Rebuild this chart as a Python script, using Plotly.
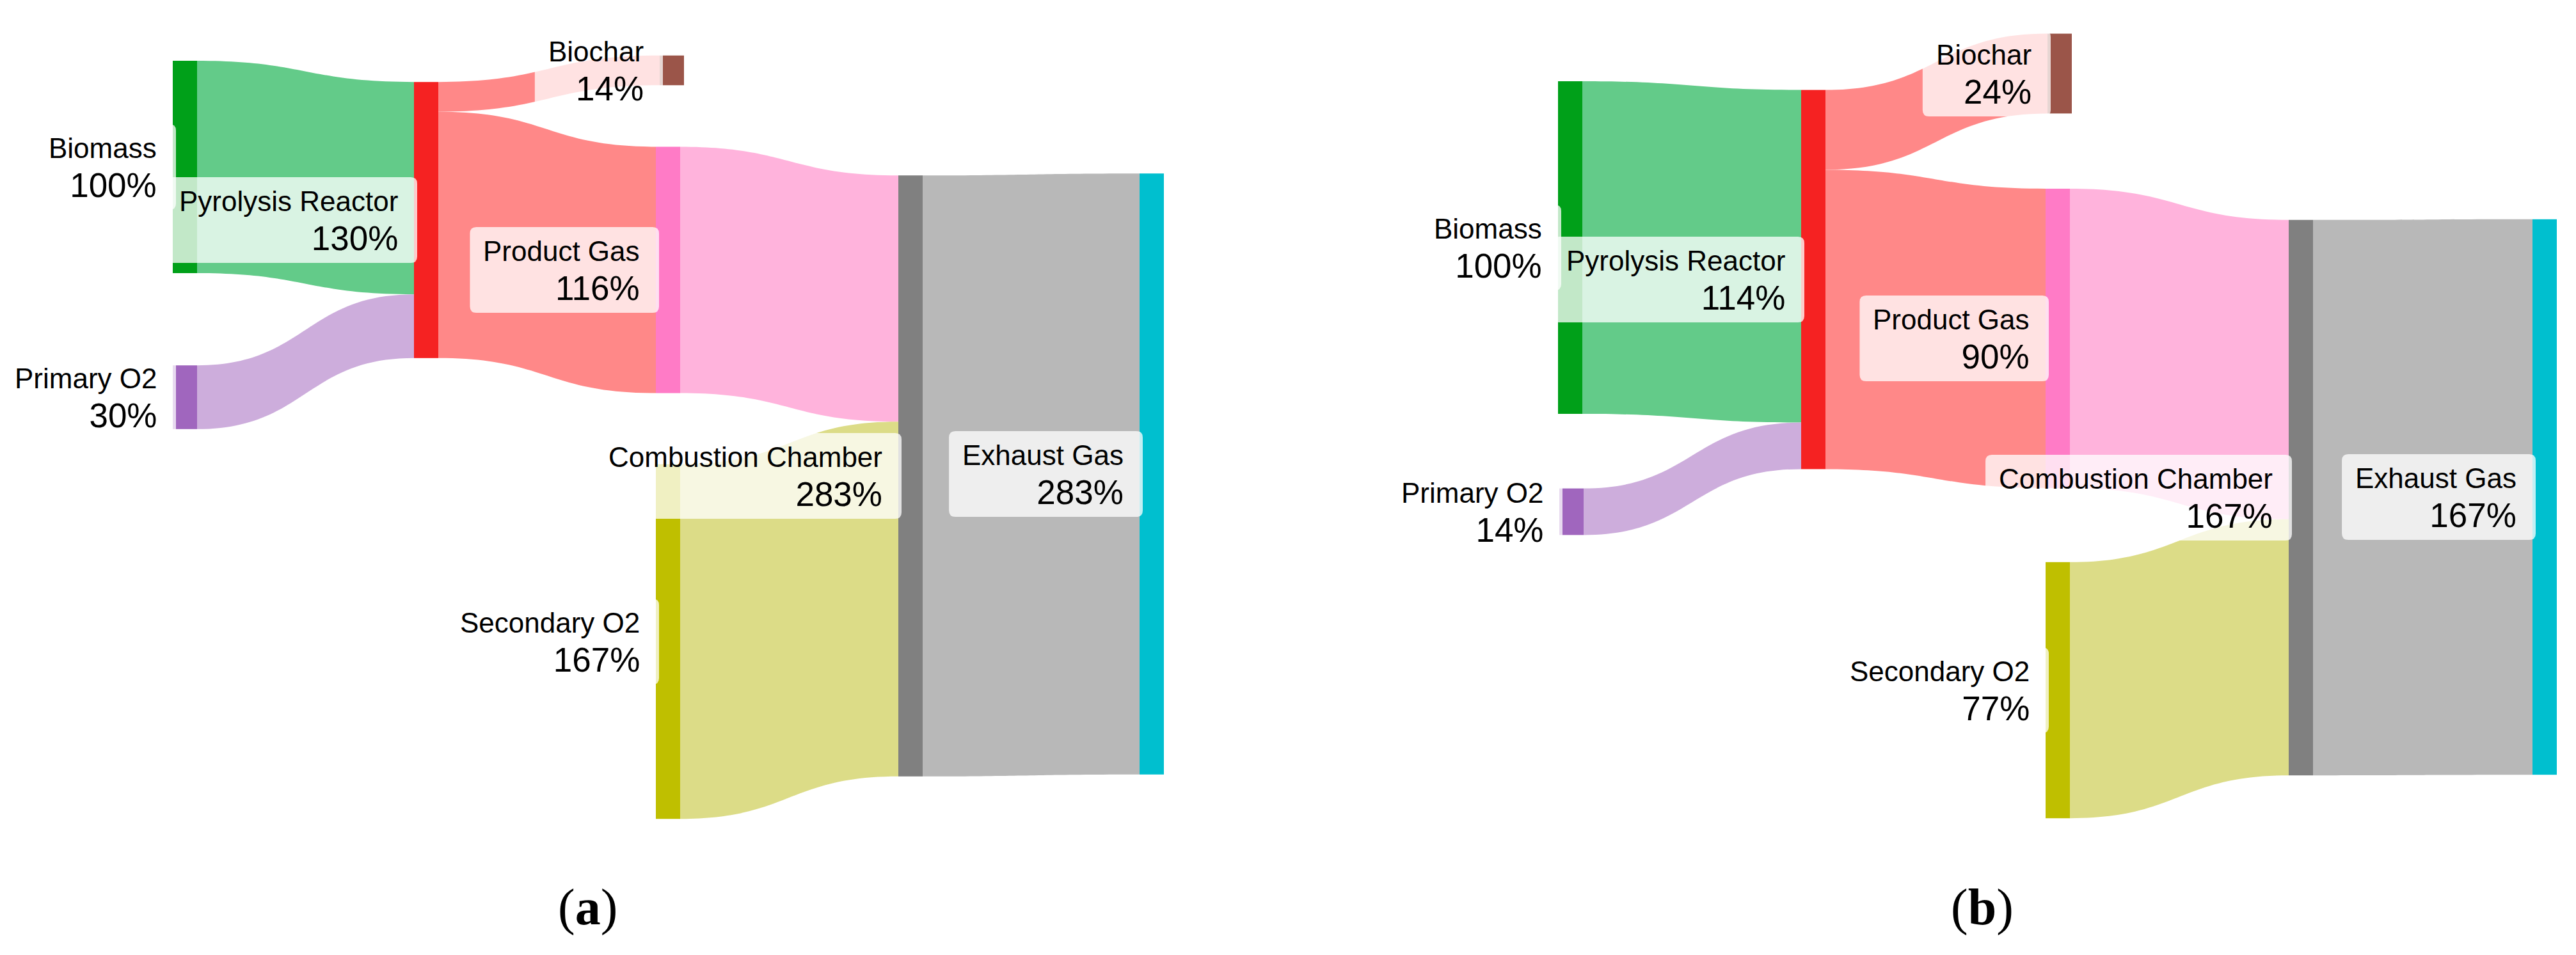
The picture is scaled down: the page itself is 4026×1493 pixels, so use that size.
import plotly.graph_objects as go

W, H = 4026, 1493

# ---------------- data ----------------
node_names = ["Biomass", "Primary O2", "Pyrolysis Reactor", "Biochar",
              "Product Gas", "Secondary O2", "Combustion Chamber", "Exhaust Gas"]
link_source = [0, 1, 2, 2, 4, 5, 6]
link_target = [2, 2, 3, 4, 6, 6, 7]
flows_a = [100, 30, 14, 116, 116, 167, 283]   # % of biomass input, case (a)
flows_b = [100, 14, 24, 90, 90, 77, 167]      # % of biomass input, case (b)
panel_tags = ["a", "b"]

# ---------------- style ----------------
node_colors = ["#00A019", "#A066BE", "#F52222", "#9B5549",
               "#FF7BC6", "#BFBF00", "#808080", "#00BFCF"]
link_colors = ["#63CB89", "#CDADDC", "#FF8888", "#FF8888",
               "#FFB3DC", "#DCDC87", "#B8B8B8"]
FONT = "Arial, Liberation Sans, sans-serif"
NAME_SIZE, PCT_SIZE = 44, 53
THICK = 38

# hand placed node centres (page pixels), like the dragged nodes of the original
centres_a = [(289, 261), (289, 621), (666, 344), (1050, 110),
             (1044, 422), (1044, 1003), (1423, 744), (1800, 741)]
centres_b = [(2454, 387), (2456, 800), (2834, 437), (3219, 115),
             (3216, 529), (3216, 1079), (3596, 778), (3977, 777)]

# sankey domains in page pixels (x0, x1, y0, y1) and pixels per 1 %
domains = [(150, 1950, 40, 1300), (2250, 4020, 40, 1300)]
px_per_pct = [3.32, 5.2]
caption_x = [918, 3098]

# Arial advance widths (1/1000 em) for the characters used in the labels
AW = {" ": 278, "%": 889, "B": 667, "C": 722, "E": 667, "G": 778, "O": 778,
      "P": 667, "R": 722, "S": 667, "a": 556, "b": 556, "c": 500, "d": 556,
      "e": 556, "h": 556, "i": 222, "l": 222, "m": 833, "n": 556, "o": 556,
      "r": 333, "s": 500, "t": 278, "u": 556, "x": 500, "y": 500}


def text_w(s, size):
    return sum(AW.get(ch, 556) for ch in s) * size / 1000


def node_totals(flows):
    t_in = [0] * len(node_names)
    t_out = [0] * len(node_names)
    for s, t, v in zip(link_source, link_target, flows):
        t_out[s] += v
        t_in[t] += v
    return [max(a, b) for a, b in zip(t_in, t_out)]


def X(x):
    return x / W


def Y(y):
    return 1 - y / H


def rounded_box(x0, y0, x1, y1, r=10):
    p = (f"M {X(x0 + r)},{Y(y0)} L {X(x1 - r)},{Y(y0)} "
         f"Q {X(x1)},{Y(y0)} {X(x1)},{Y(y0 + r)} L {X(x1)},{Y(y1 - r)} "
         f"Q {X(x1)},{Y(y1)} {X(x1 - r)},{Y(y1)} L {X(x0 + r)},{Y(y1)} "
         f"Q {X(x0)},{Y(y1)} {X(x0)},{Y(y1 - r)} L {X(x0)},{Y(y0 + r)} "
         f"Q {X(x0)},{Y(y0)} {X(x0 + r)},{Y(y0)} Z")
    return dict(type="path", path=p, xref="paper", yref="paper",
                fillcolor="rgba(255,255,255,0.76)", line=dict(width=0),
                layer="above")


fig = go.Figure()
shapes, annotations = [], []

for k, (flows, centres) in enumerate([(flows_a, centres_a), (flows_b, centres_b)]):
    dx0, dx1, dy0, dy1 = domains[k]
    dw, dh = dx1 - dx0, dy1 - dy0
    totals = node_totals(flows)
    # first column of the automatic layout: the three source nodes
    col0 = totals[0] + totals[1] + totals[5]
    pad = (dh - px_per_pct[k] * col0) / 2

    fig.add_trace(go.Sankey(
        domain=dict(x=[X(dx0), X(dx1)], y=[Y(dy1), Y(dy0)]),
        arrangement="fixed",
        node=dict(
            label=[""] * len(node_names),
            customdata=node_names,
            hovertemplate="%{customdata}: %{value}%<extra></extra>",
            color=node_colors,
            thickness=THICK,
            pad=pad,
            line=dict(width=0),
            x=[(cx - dx0) / dw for cx, cy in centres],
            y=[(cy - dy0) / dh for cx, cy in centres],
        ),
        link=dict(source=link_source, target=link_target, value=flows,
                  color=link_colors),
    ))

    for name, tot, (cx, cy) in zip(node_names, totals, centres):
        pct = f"{tot}%"
        left = cx - THICK / 2
        right_txt = left - 23
        tw = max(text_w(name, NAME_SIZE), text_w(pct, PCT_SIZE))
        shapes.append(rounded_box(right_txt - tw - 23, cy - 67, left + 5, cy + 67))
        annotations.append(dict(
            x=X(right_txt), y=Y(cy + 2), xref="paper", yref="paper",
            xanchor="right", yanchor="middle", align="right", showarrow=False,
            text=(f"<span style='font-size:{NAME_SIZE}px'>{name}</span><br>"
                  f"<span style='font-size:{PCT_SIZE}px'>{pct}</span>"),
            font=dict(family=FONT, size=47, color="black"),
        ))

    annotations.append(dict(
        x=X(caption_x[k]), y=Y(1418), xref="paper", yref="paper",
        xanchor="center", yanchor="middle", showarrow=False,
        text=f"(<b>{panel_tags[k]}</b>)",
        font=dict(family="Times New Roman, Liberation Serif, serif", size=80,
                  color="black"),
    ))

fig.update_layout(
    width=W, height=H,
    margin=dict(l=0, r=0, t=0, b=0),
    paper_bgcolor="white",
    plot_bgcolor="white",
    font=dict(family=FONT),
    shapes=shapes,
    annotations=annotations,
    showlegend=False,
)

fig.write_html("out.html", config={"displayModeBar": False},
               post_script="document.body.style.margin='0';")
